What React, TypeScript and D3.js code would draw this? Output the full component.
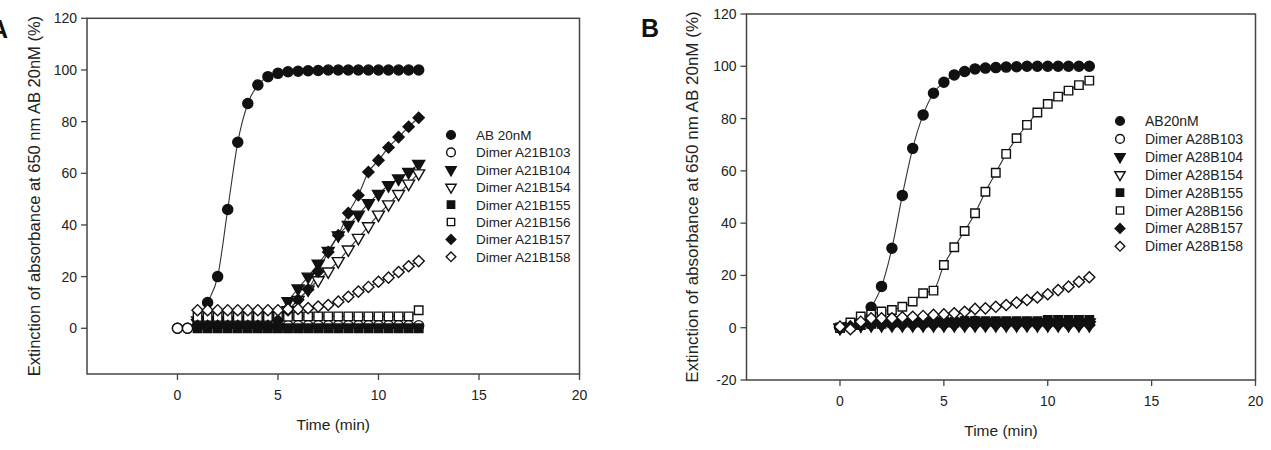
import React from 'react';
import * as d3 from 'd3';

// sampling times (min), every 30 s
const timePoints = [0, 0.5, 1, 1.5, 2, 2.5, 3, 3.5, 4, 4.5, 5, 5.5, 6, 6.5, 7, 7.5, 8, 8.5, 9, 9.5, 10, 10.5, 11, 11.5, 12];
const xTicks = [0, 5, 10, 15, 20];
const yTicksA = [0, 20, 40, 60, 80, 100, 120];
const yTicksB = [-20, 0, 20, 40, 60, 80, 100, 120];

const namesA = ['AB 20nM', 'Dimer A21B103', 'Dimer A21B104', 'Dimer A21B154', 'Dimer A21B155', 'Dimer A21B156', 'Dimer A21B157', 'Dimer A21B158'];
const namesB = ['AB20nM', 'Dimer A28B103', 'Dimer A28B104', 'Dimer A28B154', 'Dimer A28B155', 'Dimer A28B156', 'Dimer A28B157', 'Dimer A28B158'];
const symbols = ['circleFilled', 'circleOpen', 'triFilled', 'triOpen', 'squareFilled', 'squareOpen', 'diamondFilled', 'diamondOpen'];

// panel A, null = not measured
const abA = [0, 0, 0.5, 10, 20, 46, 72, 87, 94.2, 97.4, 98.7, 99.3, 99.5, 99.7, 99.8, 100, 100, 100, 100, 100, 100, 100, 100, 100, 100];
const a21b103 = [0, 0, 1, 1, 1, 1, 1, 1, 1, 1, 1, 1, 1, 1, 1, 1, 1, 1, 1, 1, 1, 1, 1, 1, 1];
const a21b104 = [null, null, 2, 2, 2, 2, 2, 2, 2, 2.5, 5, 10.5, 15.4, 20, 25, 30, 36, 40, 44, 48.4, 52, 55.4, 58, 60.5, 63.6];
const a21b154 = [null, null, 3, 3, 3, 3, 3, 3, 3, 3, 4, 7, 11, 15, 18.6, 22, 26, 30.5, 35, 39.5, 44, 48, 52, 56, 60];
const a21b155 = [null, null, 0, 0, 0, 0, 0, 0, 0, 0, 0, 0, 0, 0, 0, 0, 0, 0, 0, 0, 0, 0, 0, 0, 0];
const a21b156 = [null, null, 4.4, 4.4, 4.4, 4.4, 4.4, 4.4, 4.4, 4.4, 4.5, 4.5, 4.6, 4.6, 4.6, 4.6, 4.6, 4.6, 4.6, 4.6, 4.6, 4.6, 4.6, 4.6, 7];
const a21b157 = [null, null, 1, 1, 1, 1, 1, 1, 1, 1, 3, 7, 11, 15, 22, 29.5, 36, 44.6, 51.5, 60.5, 65, 70, 74, 78, 81.5];
const a21b158 = [null, null, 7, 7, 7, 7, 7, 7, 7, 7, 7, 7.4, 7.5, 7.8, 8.4, 9, 10.3, 12.2, 14.2, 16, 18, 19.6, 21.8, 24, 26];

// panel B
const abB = [0, 1, 2.5, 7.8, 15.8, 30.4, 50.6, 68.6, 81.4, 89.7, 93.9, 96.7, 98, 99, 99.3, 99.5, 99.7, 99.8, 100, 100, 100, 100, 100, 100, 100];
const a28b103 = [0, 1, 2, 2.5, 3, 3, 3, 3, 3, 3, 3, 2.5, 2.5, 2.5, 2, 2, 2, 2, 2, 2, 2, 2, 2, 2, 2];
const a28b104 = [0, 0.5, 1, 1.5, 2, 2, 2, 2, 2, 2, 2, 2, 2, 2, 2, 2, 2, 2, 2, 2, 2, 2, 2, 2, 2];
const a28b154 = [0, 0.5, 1, 1, 1, 1, 1, 1, 1, 1, 1, 1, 1, 1, 1, 1, 1, 1, 1, 1, 1, 1, 1, 1, 1];
const a28b155 = [0, 0.5, 1, 1.5, 1.5, 2, 2, 2, 2, 2, 2, 2, 2.5, 2.5, 2.5, 2.5, 2.5, 2.5, 2.5, 2.5, 3, 3, 3, 3, 3];
const a28b156 = [0, 2, 4.3, 5, 6.2, 6.8, 8, 10, 13.2, 14.2, 24, 30.8, 37, 43.8, 52, 59.3, 66.5, 72.5, 77.6, 82.3, 85.6, 88.4, 90.7, 92.8, 94.5];
const a28b157 = [0, 0.5, 1, 1, 1, 1, 1, 1, 1, 1, 1, 1, 1, 1, 1, 1, 1, 1, 1, 1, 1, 1, 1, 1, 1];
const a28b158 = [0.4, -0.6, 2.3, 3.6, 3.6, 3.6, 4, 4.2, 4.5, 4.9, 5.1, 5.5, 6.1, 7.2, 7.4, 8, 8.7, 9.6, 10.6, 11.6, 12.8, 14.4, 15.7, 17.6, 19.3];

const seriesA = [abA, a21b103, a21b104, a21b154, a21b155, a21b156, a21b157, a21b158];
const seriesB = [abB, a28b103, a28b104, a28b154, a28b155, a28b156, a28b157, a28b158];

const FONT = 'Arial, "Liberation Sans", Helvetica, sans-serif';
const INK = '#222';

const symbolPath = (kind: string, scale = 1) => {
  if (kind.startsWith('circle')) return d3.symbol(d3.symbolCircle, 80 * scale)()!;
  if (kind.startsWith('tri')) return d3.symbol(d3.symbolTriangle, 62 * scale)()!;
  return d3.symbol(d3.symbolSquare, (kind.startsWith('square') ? 72 : 62) * scale)()!;
};

const symbolTransform = (kind: string, px: number, py: number) => {
  if (kind.startsWith('tri')) return `translate(${px},${py}) rotate(180)`;
  if (kind.startsWith('diamond')) return `translate(${px},${py}) rotate(45)`;
  return `translate(${px},${py})`;
};

const Marker = ({ kind, px, py, scale = 1 }: { kind: string; px: number; py: number; scale?: number }) => {
  const filled = kind.endsWith('Filled');
  return (
    <path
      d={symbolPath(kind, scale)}
      transform={symbolTransform(kind, px, py)}
      fill={filled ? '#111' : '#fff'}
      stroke="#111"
      strokeWidth={1.4}
    />
  );
};

type PanelProps = {
  letter: string;
  letterX: number;
  letterY: number;
  box: { left: number; right: number; top: number; bottom: number };
  xDomain: [number, number];
  yDomain: [number, number];
  yTicks: number[];
  series: (number | null)[][];
  names: string[];
  legendX: number;
  legendY: number;
  legendStep: number;
  legendSize: number;
  yTitleX: number;
  xTitleY: number;
  titleSize: number;
};

const Panel = (p: PanelProps) => {
  const x = d3.scaleLinear().domain(p.xDomain).range([p.box.left, p.box.right]);
  const y = d3.scaleLinear().domain(p.yDomain).range([p.box.bottom, p.box.top]);
  const line = d3.line<[number, number | null]>()
    .defined(d => d[1] !== null)
    .x(d => x(d[0]))
    .y(d => y(d[1] as number))
    .curve(d3.curveMonotoneX);
  const midY = (p.box.top + p.box.bottom) / 2;
  const midX = (p.box.left + p.box.right) / 2;

  return (
    <g fontFamily={FONT}>
      <text x={p.letterX} y={p.letterY} fontSize={25} fontWeight="bold" fill="#111">{p.letter}</text>

      {/* frame */}
      <rect x={p.box.left} y={p.box.top} width={p.box.right - p.box.left} height={p.box.bottom - p.box.top}
        fill="none" stroke="#444" strokeWidth={1.5} />

      {/* y axis */}
      {p.yTicks.map(t => (
        <g key={'y' + t}>
          <line x1={p.box.left - 6} x2={p.box.left} y1={y(t)} y2={y(t)} stroke="#444" strokeWidth={1.3} />
          <text x={p.box.left - 10} y={y(t) + 5} textAnchor="end" fontSize={14} fill={INK}>{t}</text>
        </g>
      ))}

      {/* x axis */}
      {xTicks.map(t => (
        <g key={'x' + t}>
          <line x1={x(t)} x2={x(t)} y1={p.box.bottom} y2={p.box.bottom + 6} stroke="#444" strokeWidth={1.3} />
          <text x={x(t)} y={p.box.bottom + 26} textAnchor="middle" fontSize={14} fill={INK}>{t}</text>
        </g>
      ))}

      <text x={midX} y={p.xTitleY} textAnchor="middle" fontSize={15.5} fill={INK}>Time (min)</text>
      <text transform={`translate(${p.yTitleX},${midY}) rotate(-90)`} textAnchor="middle"
        dominantBaseline="central" fontSize={p.titleSize} fill={INK}>
        Extinction of absorbance at 650 nm AB 20nM (%)
      </text>

      {/* lines */}
      {p.series.map((vals, i) => (
        <path key={'l' + i}
          d={line(timePoints.map((t, j) => [t, vals[j]] as [number, number | null])) || ''}
          fill="none" stroke="#333" strokeWidth={1.1} />
      ))}

      {/* markers */}
      {p.series.map((vals, i) => (
        <g key={'m' + i}>
          {timePoints.map((t, j) => vals[j] === null ? null : (
            <Marker key={j} kind={symbols[i]} px={x(t)} py={y(vals[j] as number)} />
          ))}
        </g>
      ))}

      {/* legend */}
      {p.names.map((name, i) => {
        const cy = p.legendY + i * p.legendStep;
        return (
          <g key={'lg' + i}>
            <Marker kind={symbols[i]} px={p.legendX} py={cy} scale={0.75} />
            <text x={p.legendX + 25} y={cy + 5} fontSize={p.legendSize} fill={INK}>{name}</text>
          </g>
        );
      })}
    </g>
  );
};

export default function App() {
  return (
    <svg width={1271} height={450} style={{ position: 'absolute', left: 0, top: 0, background: '#fff' }}>
      <rect width={1271} height={450} fill="#fff" />
      <Panel
        letter="A" letterX={-10} letterY={38}
        box={{ left: 87, right: 579.5, top: 18.3, bottom: 374 }}
        xDomain={[-4.5, 20]} yDomain={[-17.7, 120]} yTicks={yTicksA}
        series={seriesA} names={namesA}
        legendX={451} legendY={135} legendStep={17.4} legendSize={13.5}
        yTitleX={33.5} xTitleY={430} titleSize={16.5}
      />
      <Panel
        letter="B" letterX={641} letterY={37}
        box={{ left: 746.5, right: 1255.5, top: 14, bottom: 380 }}
        xDomain={[-4.5, 20]} yDomain={[-20, 120]} yTicks={yTicksB}
        series={seriesB} names={namesB}
        legendX={1120} legendY={121} legendStep={17.9} legendSize={14}
        yTitleX={692} xTitleY={436} titleSize={17}
      />
    </svg>
  );
}
